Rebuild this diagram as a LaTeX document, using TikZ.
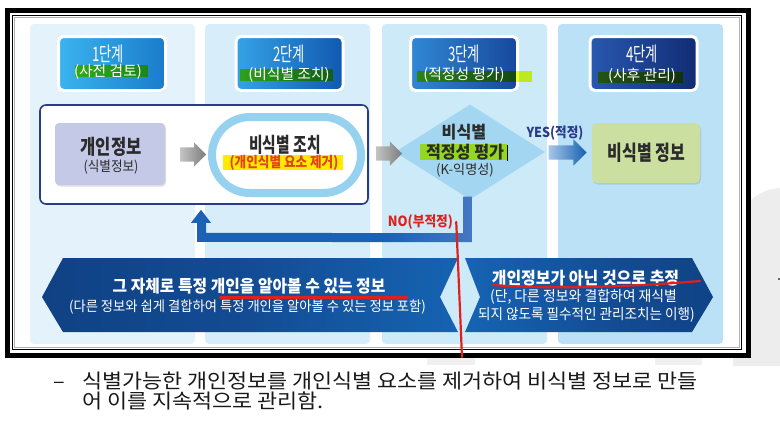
\documentclass[tikz,border=0pt]{standalone}
\usepackage{fontspec}
\setmainfont{Noto Sans CJK KR}
\usepackage{xcolor}
\usepackage{graphicx}
\usetikzlibrary{shapes.geometric,shapes.arrows,shadows,calc}
\definecolor{pa}{HTML}{E4F2FB}
\definecolor{pb}{HTML}{D7EEFA}
\definecolor{pc}{HTML}{CDEAF8}
\definecolor{pd}{HTML}{BAE1F5}
\definecolor{nv}{HTML}{2A3A8C}
\definecolor{lv}{HTML}{C4C9E8}
\definecolor{rg}{HTML}{96D2F0}
\definecolor{dm}{HTML}{A3D7F1}
\definecolor{gn}{HTML}{CADFA0}
\definecolor{hl}{HTML}{EAFF20}
\definecolor{yl}{HTML}{FFEA00}
\definecolor{rd}{HTML}{E0201C}
\definecolor{or}{HTML}{E4401C}
\definecolor{tx}{HTML}{2B2B2B}
\definecolor{nb}{HTML}{1B62B5}
\definecolor{nl}{HTML}{8A9AD8}
\definecolor{ya}{HTML}{A6C6EA}
\definecolor{yb}{HTML}{1560B0}
\definecolor{yt}{HTML}{2A3A8A}
\definecolor{ga}{HTML}{C4C4C4}
\definecolor{gb}{HTML}{7C7C7C}
\definecolor{ha}{HTML}{3AB4EE}
\definecolor{hb}{HTML}{1A7CCB}
\definecolor{hc}{HTML}{35A3E6}
\definecolor{hd}{HTML}{1058B0}
\definecolor{he}{HTML}{3088D4}
\definecolor{hf}{HTML}{16489C}
\definecolor{hg}{HTML}{2858B0}
\definecolor{hh}{HTML}{112C74}
\definecolor{ba}{HTML}{0C3674}
\definecolor{bb}{HTML}{134C94}
\definecolor{bm}{HTML}{1668B8}
\definecolor{bc}{HTML}{1DA4E8}
\pgfdeclarehorizontalshading{noshd}{100bp}{color(0bp)=(nb); color(60bp)=(nb); color(100bp)=(nl)}
\pgfdeclarehorizontalshading{lbshd}{100bp}{color(0bp)=(ba); color(50bp)=(bb); color(80bp)=(bm); color(100bp)=(bc)}
\pgfdeclarehorizontalshading{rbshd}{100bp}{color(0bp)=(bc); color(20bp)=(bm); color(55bp)=(bb); color(100bp)=(ba)}
\newcommand{\fs}[1]{\fontsize{#1}{#1}\selectfont}
\newcommand{\sq}[2][.8]{\scalebox{#1}[1]{#2}}

\begin{document}
\begin{tikzpicture}[x=1pt,y=-1pt,
  pn/.style={rounded corners=4pt},
  hdb/.style={draw=white,line width=3pt,rounded corners=5pt,minimum width=107pt,minimum height=54pt,inner sep=0pt,
    drop shadow={opacity=.3,shadow xshift=1pt,shadow yshift=-1.5pt}},
  bxs/.style={rounded corners=4pt,inner sep=0pt,drop shadow={opacity=.25,shadow xshift=1pt,shadow yshift=-1.5pt}},
  mk/.style={fill=hl,blend mode=multiply},
  wt/.style={text=white,inner sep=0pt},
  bk/.style={text=tx,inner sep=0pt},
  nt/.style={text=black!90,inner sep=0pt,anchor=west,font=\fs{20pt}},
  garr/.style={single arrow,minimum height=26pt,single arrow head extend=5pt,inner sep=0pt,left color=ga,right color=gb},
  yarr/.style={single arrow,minimum height=38pt,single arrow head extend=6pt,inner sep=0pt,left color=ya,right color=yb},
  rdl/.style={draw=rd,line width=2.2pt,line cap=round}]
\useasboundingbox (0,0) rectangle (780,426);
\fill[white] (0,0) rectangle (780,426);
% slide behind the shot
\fill[black!7] (780,188) .. controls (750,190) and (733,215) .. (733,250) -- (733,366) -- (780,366) -- cycle;
\fill[black!6] (427,358) rectangle (475,365);
\fill[black!6] (655,358) rectangle (702,365);
\fill[black!60] (777.5,277.5) rectangle (780,280);
% frame
\fill[white] (7,10.5) rectangle (748,355);
\draw[line width=5pt] (7,10.5) rectangle (748,355);
\draw[line width=1.5pt] (12.5,15.5) rectangle (741.5,349.5);
\draw[black!30,line width=1pt] (14.5,17.5) rectangle (739.5,347.5);
% columns
\foreach \c/\xa/\xb in {pa/30/195,pb/205/370,pc/382/547,pd/558/723}
  \fill[\c,pn] (\xa,24) rectangle (\xb,344);
% stage headers
\foreach \i/\x/\ca/\cb in {1/112/ha/hb,2/289.5/hc/hd,3/464/he/hf,4/643.5/hg/hh}
  \node[hdb,left color=\ca,right color=\cb](h\i) at (\x,63.5){};
\fill[mk] (75,65) rectangle (148,77);
\fill[mk] (240,69) rectangle (333,81);
\fill[mk] (417,71) rectangle (532,82);
\fill[mk] (598,72) rectangle (683,83);
\foreach \i/\x/\y/\lbl in {1/108/72/사전 검토,2/289/75/비식별 조치,3/464/75/적정성 평가,4/642/76/사후 관리}{
  \node[wt,font=\fs{20pt}](t\i) at (\x,54.5){\sq[.66]{\i{}단계}};
  \node[wt,font=\fs{14.8pt}](s\i) at (\x,\y){(\lbl)};}
% flow
\node[draw=nv,line width=1.6pt,fill=white,rounded corners=6pt,minimum width=328pt,minimum height=99pt](mainb) at (204,154.5){};
\node[bxs,fill=lv,minimum width=110pt,minimum height=62pt](info) at (110,154){};
\node[bk,font=\bfseries\fs{20.5pt}](info1) at (111,147){\sq[.81]{개인정보}};
\node[bk,font=\fs{14pt}](info2) at (111,167){\sq[.9]{(식별정보)}};
\node[draw=rg,line width=8pt,fill=white,rounded corners=38pt,minimum width=149pt,minimum height=76pt,inner sep=0pt](deid) at (286.5,155){};
\node[bk,font=\bfseries\fs{20.5pt}](de1) at (285,145){\sq[.72]{비식별 조치}};
\fill[yl] (223,155) rectangle (343,170);
\node[text=or,inner sep=0pt,font=\bfseries\fs{14.5pt}](de2) at (284,163){\sq[.87]{(개인식별 요소 제거)}};
\node[diamond,fill=dm,minimum width=150pt,minimum height=95pt,inner sep=0pt](dia) at (470,152){};
\node[bk,font=\bfseries\fs{17pt}](dt1) at (464,132){\sq[.95]{비식별}};
\fill[mk] (420,144) rectangle (507,160);
\node[bk,font=\bfseries\fs{17pt}](dt2) at (465,152){\sq[.95]{적정성 평가}};
\node[bk,font=\fs{13.5pt}](dt3) at (465,170){\sq[.97]{(K-익명성)}};
\draw[black,line width=.8pt] (507,145) -- (507,161);
\node[bxs,rounded corners=5pt,fill=gn,minimum width=108pt,minimum height=60pt](res) at (646,153){};
\node[bk,font=\bfseries\fs{20.8pt}](res1) at (646.5,153){\sq[.77]{비식별 정보}};
\node[garr](a1) at ($(info.east)!.5!(deid.west)+(3,0)$){\rule{0pt}{14pt}};
\node[garr](a2) at ($(deid.east)!.5!(dia.west)+(5.5,0)$){\rule{0pt}{14pt}};
\node[yarr](a3) at ($(dia.east)!.5!(res.west)+(-4.5,0)$){\rule{0pt}{14pt}};
\node[text=yt,inner sep=0pt,font=\bfseries\fs{13.7pt}](yes) at (555,133){\sq[.92]{YES(적정)}};
% NO loop
\coordinate (nt) at ($(dia.south)+(-2.5,-3)$);
\coordinate (ret) at ($(mainb.south)+(-3,5)$);
\shade[shading=noshd] ($(nt)+(-4.5,0)$) -- ($(nt)+(4.5,0)$) -- ($(nt)+(4.5,45.5)$) -- ($(ret)+(-4,32)$)
  -- ($(ret)+(-4,13)$) -- ($(ret)+(-10,13)$) -- (ret) -- ($(ret)+(10,13)$) -- ($(ret)+(5,13)$)
  -- ($(ret)+(5,23)$) -- ($(nt)+(-4.5,36.5)$) -- cycle;
\node[text=rd,inner sep=0pt,font=\bfseries\fs{14pt}](no) at (420.5,222){\sq[.91]{NO(부적정)}};
% banners
\shade[shading=lbshd] (42,297) -- (63,258) -- (458,258) -- (440,297) -- (458,332) -- (63,332) -- cycle;
\shade[shading=rbshd] (465,258) -- (692,258) -- (713,297) -- (692,332) -- (465,332) -- (480,297) -- cycle;
\node[wt,font=\bfseries\fs{17pt}](lb1) at (249,286){\sq[.93]{그 자체로 특정 개인을 알아볼 수 있는 정보}};
\node[wt,font=\fs{14pt}](lb2) at (247.5,307){\sq[.95]{(다른 정보와 쉽게 결합하여 특정 개인을 알아볼 수 있는 정보 포함)}};
\node[wt,font=\bfseries\fs{17pt}](rb1) at (585.5,278){\sq[.94]{개인정보가 아닌 것으로 추정}};
\node[wt,font=\fs{14.6pt}](rb2) at (583.5,297){\sq[.95]{(단, 다른 정보와 결합하여 재식별}};
\node[wt,font=\fs{14.6pt}](rb3) at (586.5,315){\sq[.93]{되지 않도록 필수적인 관리조치는 이행)}};
% pen marks
\coordinate (pen) at (462,357);
\draw[rdl] ($(no.east)+(3,0)$) -- (pen);
\draw[rdl] (220,297.5) -- (407,297.5);
\draw[rdl] (493,285) .. controls (560,290) and (640,286) .. (700,281);
% note under the frame
\node[nt](dash) at (53,385){\sq[1.09]{–}};
\node[nt](ln1) at (82,381){\sq[1.09]{식별가능한 개인정보를 개인식별 요소를 제거하여 비식별 정보로 만들}};
\node[nt](ln2) at (82,401){\sq[1.09]{어 이를 지속적으로 관리함.}};
\end{tikzpicture}
\end{document}
